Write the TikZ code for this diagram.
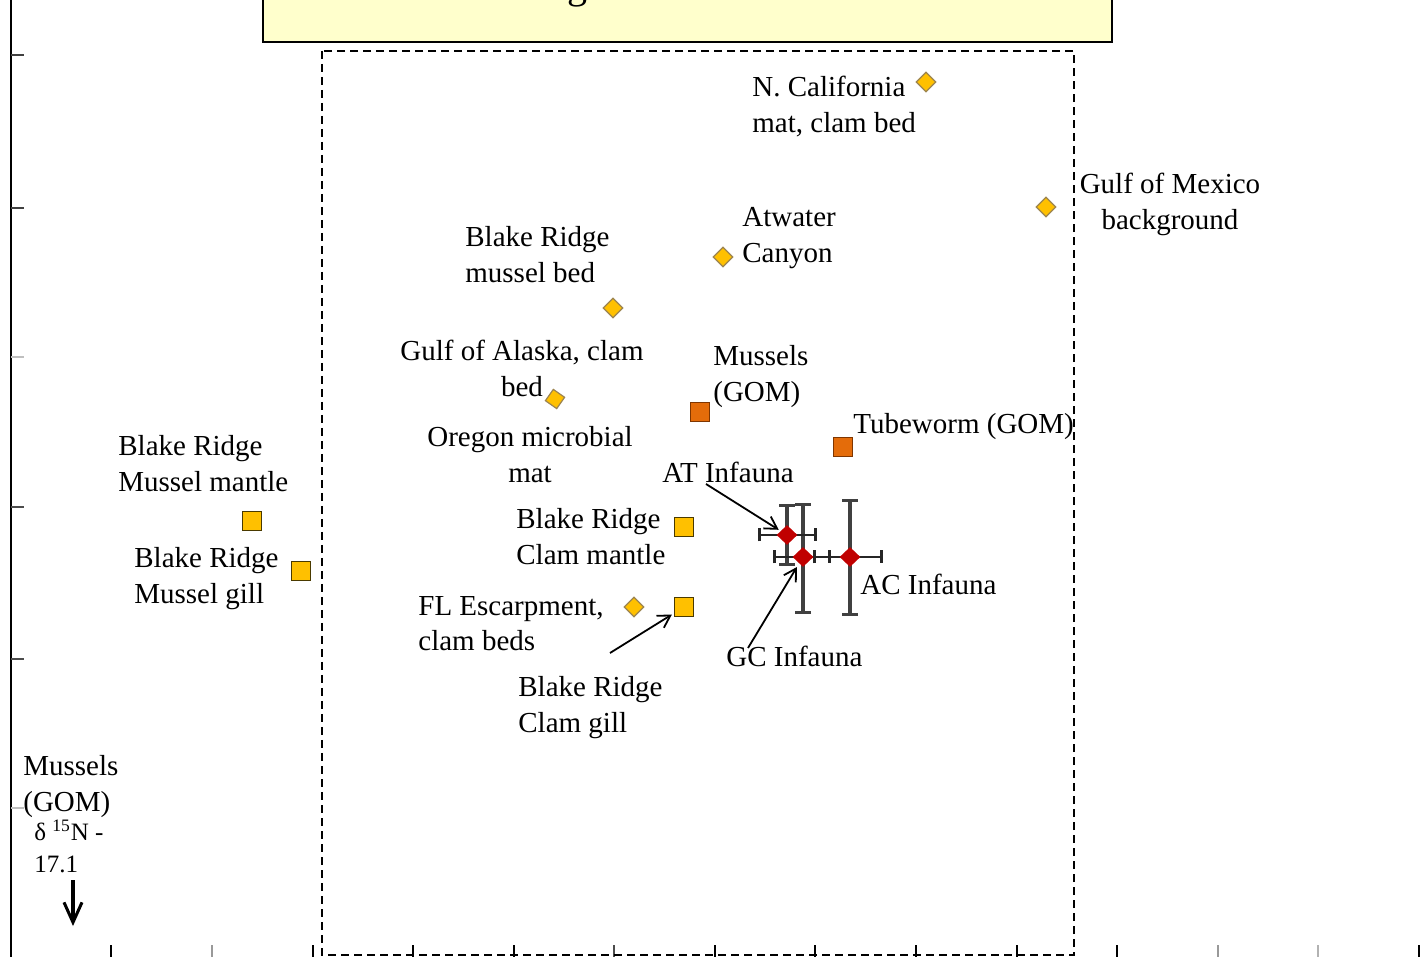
\documentclass[tikz,border=0pt]{standalone}
\usepackage{fontspec}
\setmainfont{Liberation Serif}
\usetikzlibrary{shapes.geometric,arrows.meta}
\definecolor{ydia}{HTML}{FFC000}
\definecolor{ydiaedge}{HTML}{9C8450}
\definecolor{ysqedge}{HTML}{4A3A00}
\definecolor{osq}{HTML}{E46C0A}
\definecolor{osqedge}{HTML}{7F3600}
\definecolor{rdia}{HTML}{C00000}
\definecolor{titlefill}{HTML}{FFFFCC}
\begin{document}
\begin{tikzpicture}[x=0.5pt,y=-0.5pt,
  lbl/.style={inner sep=0pt, font=\fontsize{14.5}{17.75}\selectfont, align=left, anchor=north west},
  lblc/.style={lbl, align=center, anchor=north},
  lbls/.style={inner sep=0pt, font=\fontsize{12.5}{16}\selectfont, align=left, anchor=north west},
  ydiamond/.style={diamond, fill=ydia, draw=ydiaedge, line width=0.6pt, minimum width=10pt, minimum height=10pt, inner sep=0pt},
  ysquare/.style={rectangle, fill=ydia, draw=ysqedge, line width=0.9pt, minimum size=9.5pt, inner sep=0pt},
  osquare/.style={rectangle, fill=osq, draw=osqedge, line width=0.7pt, minimum size=9.5pt, inner sep=0pt},
  rdiamond/.style={diamond, fill=rdia, minimum width=10.5pt, minimum height=10pt, inner sep=0pt},
  hbar/.style={line width=1.4pt, draw=black!85, {Bar[width=6.5pt,line width=1.4pt]}-{Bar[width=6.5pt,line width=1.4pt]}},
  vbar/.style={line width=1.6pt, draw=black!75, {Bar[width=8pt,line width=1.4pt]}-{Bar[width=8pt,line width=1.4pt]}},
  conn/.style={line width=0.9pt, -{Straight Barb[length=6pt,width=7pt,line width=0.9pt]}},
  axis/.style={line width=1pt, draw=black}
]
\useasboundingbox (0,0) rectangle (1421,957);
\clip (0,0) rectangle (1421,957);

% axes
\draw[axis] (11,0) -- (11,957);
\foreach \yy/\cc in {55/black!75,208/black!75,357/black!25,507/black!70,659/black!70,808/black!25}
  \draw[line width=1pt,draw=\cc] (11,\yy) -- (24,\yy);
\foreach \xx/\cc in {111/black,212/black!40,313/black,413/black,514/black,614/black!70,715/black,815/black,916/black,1017/black,1117/black,1218/black!40,1318/black!30,1419/black}
  \draw[line width=1pt,draw=\cc] (\xx,945) -- (\xx,957);

% title box (cut off at the top)
\draw[fill=titlefill, line width=1pt] (263,-10) rectangle (1112,42);
\node[inner sep=0pt, anchor=base, font=\fontsize{20}{24}\selectfont] (title) at (577,-1) {g};

% dashed frame
\draw[line width=1.2pt, dash pattern=on 4pt off 2.5pt] (322,51) rectangle (1074,955);

% yellow diamonds
\node[ydiamond] (ncal) at (926,82) {};
\node[ydiamond] (gomb) at (1046,207) {};
\node[ydiamond] (atw) at (723,257) {};
\node[ydiamond] (brmb) at (613,308) {};
\node[ydiamond, rotate=10] (goa) at (555,399) {};
\node[ydiamond] (fle) at (634,607) {};

% yellow squares
\node[ysquare] (brmm) at (252,521) {};
\node[ysquare] (brmg) at (301,571) {};
\node[ysquare] (brcm) at (684,527) {};
\node[ysquare] (brcg) at (684,607) {};

% orange squares
\node[osquare] (musg) at (700,412) {};
\node[osquare] (tube) at (843,447) {};

% red diamonds with error bars
\coordinate (atc) at (787,535);
\coordinate (gcc) at (803,557);
\coordinate (acc) at (850,557);
\draw[vbar] ([shift={(0,-31)}]atc) -- ([shift={(0,31)}]atc);
\draw[vbar] ([shift={(0,-54)}]gcc) -- ([shift={(0,57)}]gcc);
\draw[vbar] ([shift={(0,-58)}]acc) -- ([shift={(0,59)}]acc);
\draw[hbar] ([shift={(-29,0)}]atc) -- ([shift={(30,0)}]atc);
\draw[hbar] ([shift={(-30,0)}]gcc) -- ([shift={(28,0)}]gcc);
\draw[hbar] ([shift={(-37,0)}]acc) -- ([shift={(33,0)}]acc);
\node[rdiamond] (atm) at (atc) {};
\node[rdiamond] (gcm) at (gcc) {};
\node[rdiamond] (acm) at (acc) {};

% labels
\node[lbl] (ncalL) at (752,76) {N. California\\mat, clam bed};
\node[lblc] (gombL) at (1170,173) {Gulf of Mexico\\background};
\node[lbl] (atwL) at (742,207) {Atwater\\Canyon};
\node[lbl] (brmbL) at (465,226) {Blake Ridge\\mussel bed};
\node[lblc] (goaL) at (522,340) {Gulf of Alaska, clam\\bed};
\node[lbl] (musgL) at (713,345) {Mussels\\(GOM)};
\node[lblc] (oreL) at (530,426) {Oregon microbial\\mat};
\node[lbl] (tubeL) at (853,413) {Tubeworm (GOM)};
\node[lbl] (atL) at (662,462) {AT Infauna};
\node[lbl] (brmmL) at (118,435) {Blake Ridge\\Mussel mantle};
\node[lbl] (brmgL) at (134,547) {Blake Ridge\\Mussel gill};
\node[lbl] (brcmL) at (516,508) {Blake Ridge\\Clam mantle};
\node[lbl] (fleL) at (418,596) {FL Escarpment,\\clam beds};
\node[lbl] (brcgL) at (518,676) {Blake Ridge\\Clam gill};
\node[lbl] (acL) at (860,574) {AC Infauna};
\node[lbl] (gcL) at (726,646) {GC Infauna};
\node[lbl] (musL) at (23,755) {Mussels\\(GOM)};
\node[lbls] (d15L) at (34,820) {δ \textsuperscript{15}N -\\17.1};

% connectors
\coordinate (atA) at (706,484);
\coordinate (cgA) at (610,653);
\coordinate (gcA) at (748,648);
\draw[conn, shorten >=1pt] (atA) -- (atm);
\draw[conn, shorten >=1pt] (cgA) -- (brcg);
\draw[conn, shorten >=2pt] (gcA) -- (gcm);

% down arrow
\coordinate (dnS) at (73,880);
\coordinate (dnE) at (73,926);
\draw[line width=1.7pt, -{Straight Barb[length=10pt,width=9pt,line width=1.5pt]}] (dnS) -- (dnE);
\end{tikzpicture}
\end{document}
